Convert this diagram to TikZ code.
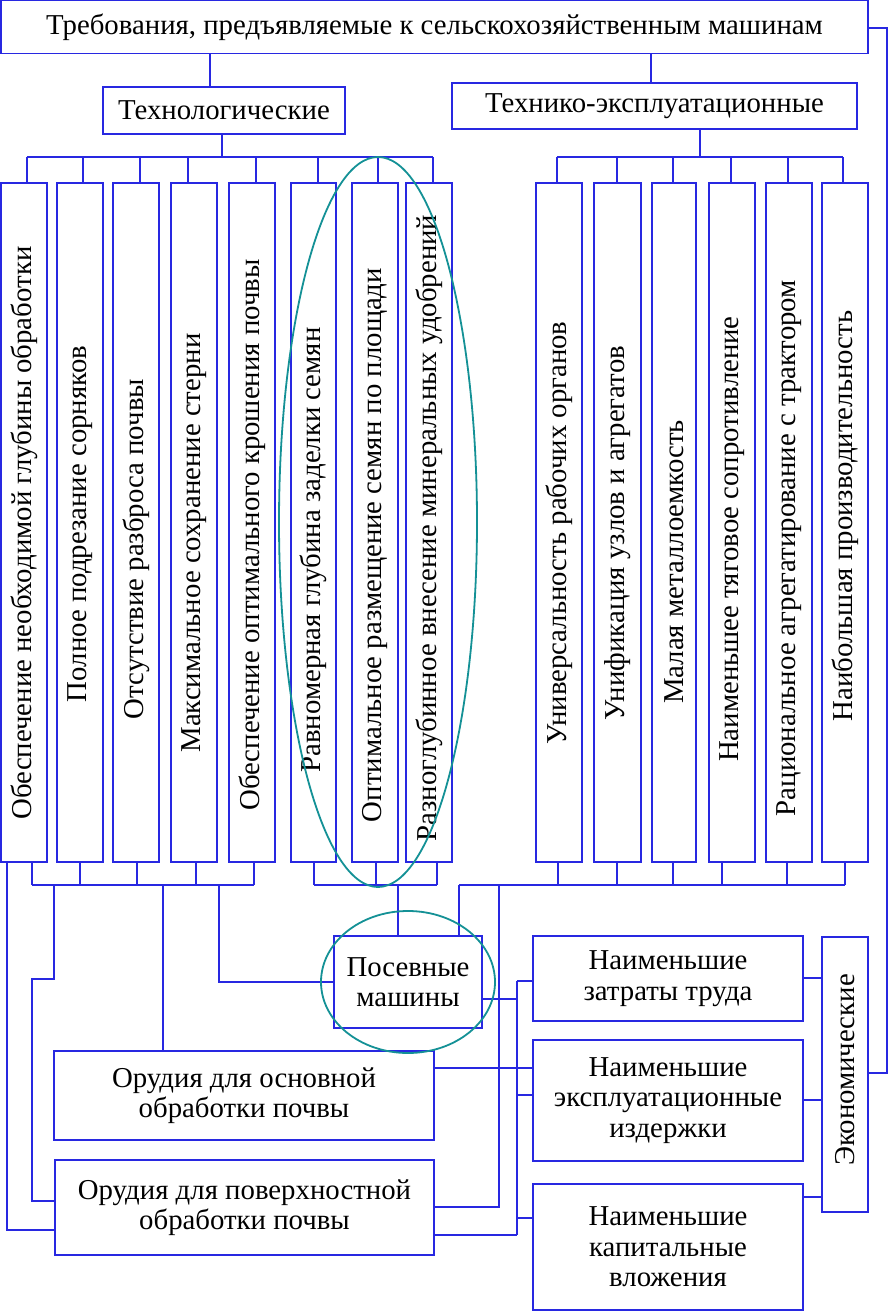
\documentclass[tikz,border=0pt]{standalone}
\usepackage{fontspec}
\setmainfont{Liberation Serif}
\usetikzlibrary{shapes.geometric}
\definecolor{lineblue}{RGB}{40,40,225}
\definecolor{tealc}{RGB}{20,145,150}
\newcommand{\fsz}{\fontsize{28.8}{30.5}\selectfont}
\begin{document}
\begin{tikzpicture}[x=1pt,y=-1pt,
 box/.style={draw=lineblue,line width=1.1pt,fill=white,inner sep=0pt,align=center,font=\fsz},
 colbox/.style={draw=lineblue,line width=1.1pt,fill=white,inner sep=0pt,minimum height=679pt},
 coltxt/.style={inner sep=0pt,font=\fsz,rotate=90},
 conn/.style={draw=lineblue,line width=1.1pt},
 oval/.style={draw=tealc,line width=1.8pt,ellipse,inner sep=0pt}]
\useasboundingbox (0,0) rectangle (890,1311);
\fill[white] (0,0) rectangle (890,1311);

% main boxes
\node[box,minimum width=867pt,minimum height=53pt] (top) at (434.5,27) {Требования, предъявляемые к сельскохозяйственным машинам};
\node[box,minimum width=242pt,minimum height=47pt] (tech) at (224,110.5) {Технологические};
\node[box,minimum width=405pt,minimum height=46pt] (texp) at (654.5,106) {Технико-эксплуатационные};

% left columns
\node[colbox,minimum width=46pt] (L1) at (24,522.5) {};
\node[colbox,minimum width=46pt] (L2) at (80,522.5) {};
\node[colbox,minimum width=46pt] (L3) at (136,522.5) {};
\node[colbox,minimum width=46pt] (L4) at (194,522.5) {};
\node[colbox,minimum width=46pt] (L5) at (252,522.5) {};
\node[colbox,minimum width=45pt] (L6) at (313.5,522.5) {};
\node[colbox,minimum width=46pt] (L7) at (375,522.5) {};
\node[colbox,minimum width=46pt] (L8) at (429,522.5) {};
% right columns
\node[colbox,minimum width=46pt] (R1) at (559,522.5) {};
\node[colbox,minimum width=47pt] (R2) at (617.5,522.5) {};
\node[colbox,minimum width=44pt] (R3) at (674,522.5) {};
\node[colbox,minimum width=46pt] (R4) at (732,522.5) {};
\node[colbox,minimum width=46pt] (R5) at (789,522.5) {};
\node[colbox,minimum width=46pt] (R6) at (845,522.5) {};

% column texts
\node[coltxt] (tL1) at (24,533) {Обеспечение необходимой глубины обработки};
\node[coltxt] (tL2) at (80,524) {Полное подрезание сорняков};
\node[coltxt] (tL3) at (136,549) {Отсутствие разброса почвы};
\node[coltxt] (tL4) at (194,543) {Максимальное сохранение стерни};
\node[coltxt] (tL5) at (252,535) {Обеспечение оптимального крошения почвы};
\node[coltxt] (tL6) at (313.5,550) {Равномерная глубина заделки семян};
\node[coltxt] (tL7) at (375,545) {Оптимальное размещение семян по площади};
\node[coltxt] (tL8) at (429,528) {Разноглубинное внесение минеральных удобрений};
\node[coltxt] (tR1) at (559,533) {Универсальность рабочих органов};
\node[coltxt] (tR2) at (617.5,533) {Унификация узлов и агрегатов};
\node[coltxt] (tR3) at (674,562) {Малая металлоемкость};
\node[coltxt] (tR4) at (732,539) {Наименьшее тяговое сопротивление};
\node[coltxt] (tR5) at (789,548) {Рациональное агрегатирование с трактором};
\node[coltxt] (tR6) at (845,516) {Наибольшая производительность};

% lower boxes
\node[box,minimum width=148pt,minimum height=92pt] (pos) at (408,982) {Посевные\\машины};
\node[box,minimum width=270pt,minimum height=85pt] (zat) at (668,978.5) {Наименьшие\\затраты труда};
\node[box,minimum width=270pt,minimum height=121pt] (exp) at (668,1100.5) {Наименьшие\\эксплуатационные\\издержки};
\node[box,minimum width=270pt,minimum height=126pt] (kap) at (668,1247) {Наименьшие\\капитальные\\вложения};
\node[box,minimum width=46pt,minimum height=275pt] (eco) at (845,1074.5) {};
\node[coltxt] (teco) at (845,1070) {Экономические};
\node[box,minimum width=380pt,minimum height=89pt] (osn) at (244,1095.5) {Орудия для основной\\обработки почвы};
\node[box,minimum width=379pt,minimum height=95pt] (pov) at (244.5,1207.5) {Орудия для поверхностной\\обработки почвы};

% ---- connectors top
\coordinate (kT1) at (210,70);
\coordinate (kT2) at (651,70);
\draw[conn] (top.south -| kT1) -- (tech.north -| kT1);
\draw[conn] (top.south -| kT2) -- (texp.north -| kT2);

% upper left bus
\coordinate (busL) at (222,157);
\coordinate (bL1) at (27,157);
\coordinate (bL2) at (83,157);
\coordinate (bL3) at (140,157);
\coordinate (bL4) at (188,157);
\coordinate (bL5) at (256,157);
\coordinate (bL6) at (318,157);
\coordinate (bL7) at (378,157);
\coordinate (bL8) at (433,157);
\draw[conn] (tech.south -| busL) -- (busL);
\draw[conn] (bL1) -- (bL8);
\foreach \i in {1,...,8} {\draw[conn] (bL\i) -- (bL\i |- L\i.north);}

% upper right bus
\coordinate (busR) at (700,157);
\coordinate (bR1) at (557,157);
\coordinate (bR2) at (617,157);
\coordinate (bR3) at (673,157);
\coordinate (bR4) at (731,157);
\coordinate (bR5) at (788,157);
\coordinate (bR6) at (843,157);
\draw[conn] (texp.south -| busR) -- (busR);
\draw[conn] (bR1) -- (bR6);
\foreach \i in {1,...,6} {\draw[conn] (bR\i) -- (bR\i |- R\i.north);}

% lower left bus A
\coordinate (dL1) at (32,885);
\coordinate (dL2) at (80,885);
\coordinate (dL3) at (137,885);
\coordinate (dL4) at (196,885);
\coordinate (dL5) at (254,885);
\draw[conn] (dL1) -- (dL5);
\foreach \i in {1,...,5} {\draw[conn] (dL\i |- L\i.south) -- (dL\i);}
\coordinate (a1) at (54,885);
\coordinate (a1b) at (54,979);
\coordinate (a1c) at (32,979);
\coordinate (a1d) at (32,1201);
\draw[conn] (a1) -- (a1b) -- (a1c) -- (a1d) -- (a1d -| pov.west);
\coordinate (a2) at (163,885);
\draw[conn] (a2) -- (a2 |- osn.north);
\coordinate (a3) at (219,885);
\coordinate (a3b) at (219,982);
\draw[conn] (a3) -- (a3b) -- (a3b -| pos.west);
\coordinate (o1) at (7,1230);
\draw[conn] (o1 |- L1.south) -- (o1) -- (o1 -| pov.west);

% lower bus B
\coordinate (dL6) at (314,885);
\coordinate (dL7) at (376,885);
\coordinate (dL8) at (437,885);
\draw[conn] (dL6) -- (dL8);
\foreach \i in {6,7,8} {\draw[conn] (dL\i |- L\i.south) -- (dL\i);}
\coordinate (b1) at (398,885);
\draw[conn] (b1) -- (b1 |- pos.north);

% lower bus C
\coordinate (c0) at (459,885);
\coordinate (dR1) at (558,885);
\coordinate (dR2) at (617,885);
\coordinate (dR3) at (673,885);
\coordinate (dR4) at (722,885);
\coordinate (dR5) at (787,885);
\coordinate (dR6) at (845,885);
\draw[conn] (c0) -- (dR6);
\foreach \i in {1,...,6} {\draw[conn] (dR\i |- R\i.south) -- (dR\i);}
\draw[conn] (c0) -- (c0 |- pos.north);
\coordinate (c2) at (499,885);
\coordinate (c2b) at (499,1207);
\draw[conn] (c2) -- (c2b) -- (c2b -| pov.east);

% economic bus
\coordinate (e1) at (517,981);
\coordinate (e2) at (517,1235);
\coordinate (e3) at (517,999);
\coordinate (e4) at (517,1095);
\coordinate (e5) at (517,1218);
\coordinate (e6) at (480,1068);
\draw[conn] (e1) -- (e2);
\draw[conn] (e1) -- (e1 -| zat.west);
\draw[conn] (pos.east |- e3) -- (e3);
\draw[conn] (e4) -- (e4 -| exp.west);
\draw[conn] (e5) -- (e5 -| kap.west);
\draw[conn] (e2) -- (e2 -| pov.east);
\draw[conn] (osn.east |- e6) -- (exp.west |- e6);

% to Экономические
\coordinate (f1) at (812,978);
\coordinate (f2) at (812,1100);
\coordinate (f3) at (812,1197);
\draw[conn] (zat.east |- f1) -- (eco.west |- f1);
\draw[conn] (exp.east |- f2) -- (eco.west |- f2);
\draw[conn] (kap.east |- f3) -- (eco.west |- f3);

% long right line
\coordinate (g1) at (887,28);
\coordinate (g2) at (887,1073);
\draw[conn] (top.east |- g1) -- (g1) -- (g2) -- (eco.east |- g2);

% ovals
\node[oval,minimum width=198pt,minimum height=730pt] (ov1) at (378,522) {};
\node[oval,minimum width=174pt,minimum height=142pt] (ov2) at (408,982) {};
\end{tikzpicture}
\end{document}
